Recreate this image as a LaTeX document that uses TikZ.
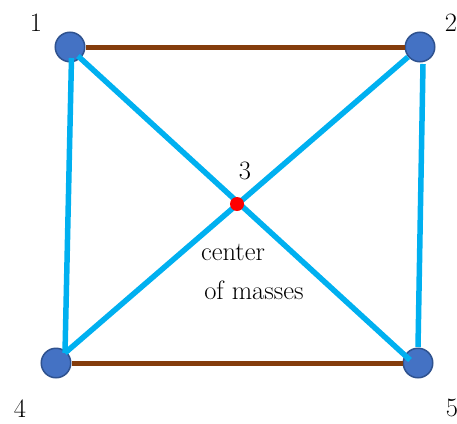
\documentclass[tikz,border=0pt]{standalone}
\usetikzlibrary{calc}
\definecolor{nodeblue}{HTML}{4472C4}
\definecolor{nodeedge}{HTML}{2F528F}
\definecolor{lineblue}{HTML}{00B0F0}
\definecolor{brownline}{HTML}{843C0C}
\begin{document}
\begin{tikzpicture}[x=1pt,y=-1pt,
  mass/.style={circle,fill=nodeblue,draw=nodeedge,line width=1.5pt,minimum size=29.5pt,inner sep=0pt},
  com/.style={circle,fill=red,minimum size=14pt,inner sep=0pt},
  blueedge/.style={lineblue,line width=5.5pt},
  brownedge/.style={brownline,line width=5pt},
  lbl/.style={font=\fontsize{26.5}{31}\selectfont,anchor=base,inner sep=0pt}]
\useasboundingbox (0,0) rectangle (457,423);
\node[mass] (n1) at (70,47) {};
\node[mass] (n2) at (420,47) {};
\node[mass] (n4) at (56,363) {};
\node[mass] (n5) at (418,363) {};
\draw[brownedge] (n1) -- (n2);
\draw[brownedge] (n4) -- (n5);
\draw[blueedge] ($(n1)+(1.5,11)$) -- ($(n4)+(9,-10)$);
\draw[blueedge] ($(n1)+(8,9)$) -- ($(n5)+(-8,-3)$);
\draw[blueedge] ($(n2)+(-12,10)$) -- ($(n4)+(9,-10)$);
\draw[blueedge] ($(n2)+(3,17)$) -- ($(n5)+(0,-16)$);
\node[com] (c3) at (237,204) {};
\node[lbl] (l1) at (36,31) {1};
\node[lbl] (l2) at (451,31) {2};
\node[lbl] (l4) at (20,417) {4};
\node[lbl] (l5) at (452,416) {5};
\node[lbl] (l3) at (245,179) {3};
\node[lbl] (t1) at (233,260) {center};
\node[lbl] (t2) at (254,299) {of masses};
\end{tikzpicture}
\end{document}
